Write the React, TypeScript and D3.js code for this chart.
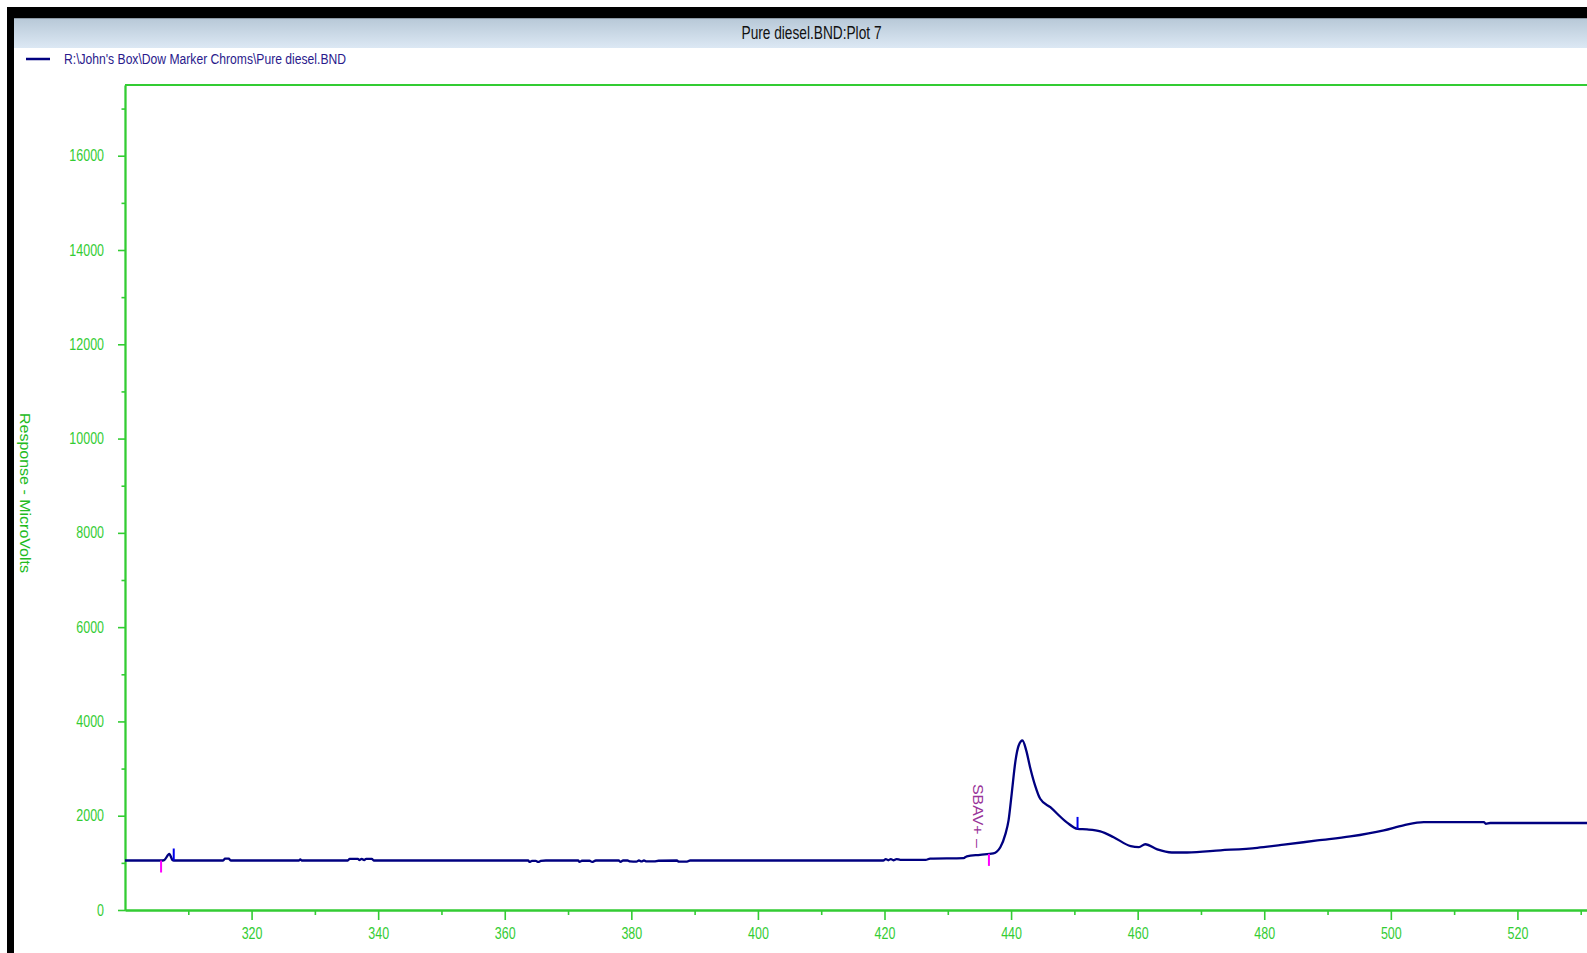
import { useEffect, useMemo, useRef } from "react";
import * as d3 from "d3";

const WIDTH = 1587;
const HEIGHT = 953;
const PLOT = { left: 125, top: 85, bottom: 910, right: 1644 };
const GREEN = "#33cc33";
const NAVY = "#000080";
const SANS = "'Liberation Sans', Arial, sans-serif";
const NARROW_SCALE = 0.78; // Arial Narrow look from Liberation Sans

// retention time (x) and detector response in microvolts (y)
const retentionTimes = [
  300.0, 305.7, 306.2, 307.0, 307.5, 307.7, 315.5, 315.8, 316.4, 316.7,
  327.5, 327.7, 327.9, 335.2, 335.5, 336.8, 337.0, 337.4, 337.8, 338.1,
  339.0, 339.3, 363.7, 363.9, 364.3, 364.9, 365.3, 365.7, 366.5, 371.6,
  371.8, 372.2, 373.4, 373.8, 374.4, 378.0, 378.3, 378.7, 379.4, 379.8,
  380.8, 381.2, 381.6, 382.0, 382.4, 383.6, 384.3, 387.2, 387.5, 388.8,
  389.3, 419.8, 420.2, 420.6, 421.0, 421.4, 421.9, 422.5, 426.5, 427.2,
  432.5, 433.0, 435.1, 437.2, 438.3, 439.1, 439.6, 440.1, 440.7, 441.2,
  441.8, 442.4, 443.0, 443.8, 444.6, 446.2, 448.8, 450.5, 452.0, 454.1,
  456.2, 458.9, 460.2, 461.2, 463.1, 465.4, 467.8, 473.1, 478.9, 483.1,
  488.4, 493.6, 498.9, 502.0, 505.2, 514.7, 515.0, 515.7, 531.5,
];
const responses = [
  1050, 1050, 1060, 1190, 1060, 1050, 1050, 1090, 1090, 1050,
  1050, 1075, 1050, 1050, 1085, 1085, 1060, 1085, 1060, 1085,
  1085, 1050, 1050, 1020, 1040, 1040, 1020, 1040, 1050, 1050,
  1020, 1045, 1045, 1020, 1050, 1050, 1020, 1050, 1050, 1030,
  1025, 1050, 1030, 1050, 1030, 1030, 1045, 1050, 1025, 1025,
  1050, 1050, 1080, 1055, 1080, 1055, 1080, 1065, 1065, 1090,
  1100, 1140, 1170, 1200, 1330, 1610, 1900, 2470, 3170, 3490,
  3595, 3380, 3030, 2640, 2360, 2180, 1860, 1720, 1710, 1670,
  1545, 1355, 1335, 1395, 1285, 1220, 1220, 1265, 1320, 1385,
  1475, 1560, 1690, 1795, 1865, 1865, 1830, 1845, 1845,
];

// integration event marks
const baselineMarks = [305.7, 436.5];
const peakEndMarks = [307.7, 450.5];
const eventLabel = "SBAV+  \u2013";

const xTicks = [320, 340, 360, 380, 400, 420, 440, 460, 480, 500, 520];
const xMinorTicks = [310, 330, 350, 370, 390, 410, 430, 450, 470, 490, 510, 530];
const yTicks = [0, 2000, 4000, 6000, 8000, 10000, 12000, 14000, 16000];
const yMinorTicks = [1000, 3000, 5000, 7000, 9000, 11000, 13000, 15000, 17000];

const title = "Pure diesel.BND:Plot 7";
const legendLabel = "R:\\John's Box\\Dow Marker Chroms\\Pure diesel.BND";
const yTitle = "Response - MicroVolts";

export default function App() {
  const axesRef = useRef<SVGGElement | null>(null);

  const x = useMemo(
    () => d3.scaleLinear().domain([300, 540]).range([PLOT.left, PLOT.right]),
    []
  );
  const y = useMemo(
    () => d3.scaleLinear().domain([0, 17500]).range([PLOT.bottom, PLOT.top]),
    []
  );
  // piecewise lookup of the trace, used to pin the event marks on the line
  const trace = useMemo(
    () => d3.scaleLinear().domain(retentionTimes).range(responses),
    []
  );

  const linePath = useMemo(() => {
    const pts = retentionTimes.map((t, i) => [t, responses[i]] as [number, number]);
    return d3
      .line<[number, number]>()
      .x((d) => x(d[0]))
      .y((d) => y(d[1]))
      .curve(d3.curveMonotoneX)(pts);
  }, [x, y]);

  useEffect(() => {
    if (!axesRef.current) return;
    const g = d3.select(axesRef.current);
    g.selectAll("*").remove();

    const style = (sel: any) => {
      sel.attr("font-family", null).attr("font-size", null);
      sel.select(".domain").attr("stroke", GREEN).attr("stroke-width", 1.8);
      sel.selectAll(".tick line").attr("stroke", GREEN).attr("stroke-width", 1.6);
      sel
        .selectAll(".tick text")
        .attr("fill", GREEN)
        .attr("font-family", SANS)
        .attr("font-size", 16);
    };

    g.append("g")
      .attr("transform", `translate(0,${PLOT.bottom})`)
      .call(d3.axisBottom(x).tickValues(xMinorTicks).tickSize(5).tickSizeOuter(0).tickFormat(() => ""))
      .call(style);
    g.append("g")
      .attr("transform", `translate(0,${PLOT.bottom})`)
      .call(d3.axisBottom(x).tickValues(xTicks).tickSize(10).tickPadding(8).tickSizeOuter(0).tickFormat(d3.format("d")))
      .call(style)
      .call((s: any) => s.selectAll(".tick text").attr("transform", `scale(${NARROW_SCALE},1)`));

    g.append("g")
      .attr("transform", `translate(${PLOT.left},0)`)
      .call(d3.axisLeft(y).tickValues(yMinorTicks).tickSize(3.5).tickSizeOuter(0).tickFormat(() => ""))
      .call(style);
    g.append("g")
      .attr("transform", `translate(${PLOT.left},0)`)
      .call(d3.axisLeft(y).tickValues(yTicks).tickSize(7).tickPadding(14).tickSizeOuter(0).tickFormat(d3.format("d")))
      .call(style)
      .call((s: any) =>
        s
          .selectAll(".tick text")
          .attr("x", -21 / NARROW_SCALE)
          .attr("transform", `scale(${NARROW_SCALE},1)`)
      );
  }, [x, y]);

  return (
    <svg
      width={WIDTH}
      height={HEIGHT}
      style={{ position: "absolute", left: 0, top: 0, display: "block", background: "#fff" }}
    >
      <defs>
        <linearGradient id="titleBar" x1="0" y1="0" x2="0" y2="1">
          <stop offset="0" stopColor="#b7c8d7" />
          <stop offset="1" stopColor="#dce8f4" />
        </linearGradient>
        <clipPath id="plotClip">
          <rect x={PLOT.left} y={PLOT.top - 10} width={WIDTH - PLOT.left} height={PLOT.bottom - PLOT.top + 10} />
        </clipPath>
      </defs>

      {/* window frame */}
      <rect x={7} y={7} width={WIDTH - 7} height={11} fill="#000" />
      <rect x={7} y={7} width={7} height={HEIGHT - 7} fill="#000" />
      <rect x={14} y={18} width={WIDTH - 14} height={30} fill="url(#titleBar)" />
      <line x1={14} x2={WIDTH} y1={18.5} y2={18.5} stroke="#8e9aa6" strokeWidth={1} />
      <text
        x={741.5}
        y={39}
        fontFamily={SANS}
        fontSize={18}
        fill="#111"
        textLength={140}
        lengthAdjust="spacingAndGlyphs"
      >
        {title}
      </text>

      {/* legend */}
      <line x1={26} x2={50} y1={59} y2={59} stroke={NAVY} strokeWidth={2.5} />
      <text
        x={64}
        y={64}
        fontFamily={SANS}
        fontSize={14}
        fill="#2a1a8c"
        textLength={282}
        lengthAdjust="spacingAndGlyphs"
      >
        {legendLabel}
      </text>

      {/* plot frame top */}
      <line x1={PLOT.left} x2={WIDTH} y1={PLOT.top} y2={PLOT.top} stroke={GREEN} strokeWidth={1.8} />

      <g ref={axesRef} />

      <text
        transform={`translate(20,493) rotate(90)`}
        textAnchor="middle"
        fontFamily={SANS}
        fontSize={14}
        fill="#22bb22"
        textLength={160}
        lengthAdjust="spacingAndGlyphs"
      >
        {yTitle}
      </text>

      <g clipPath="url(#plotClip)">
        <path d={linePath ?? ""} fill="none" stroke={NAVY} strokeWidth={2.3} strokeLinejoin="round" />

        {baselineMarks.map((t) => (
          <line
            key={`b${t}`}
            x1={x(t)}
            x2={x(t)}
            y1={y(trace(t))}
            y2={y(trace(t)) + 12}
            stroke="#ff00ff"
            strokeWidth={2}
          />
        ))}
        {peakEndMarks.map((t) => (
          <line
            key={`p${t}`}
            x1={x(t)}
            x2={x(t)}
            y1={y(trace(t))}
            y2={y(trace(t)) - 12}
            stroke="#0000ee"
            strokeWidth={2}
          />
        ))}
      </g>

      <text
        transform={`translate(${x(baselineMarks[1]) - 16},${y(trace(baselineMarks[1])) - 6}) rotate(90)`}
        textAnchor="end"
        fontFamily={SANS}
        fontSize={14}
        fill="#993399"
        textLength={64}
        lengthAdjust="spacingAndGlyphs"
      >
        {eventLabel}
      </text>
    </svg>
  );
}
